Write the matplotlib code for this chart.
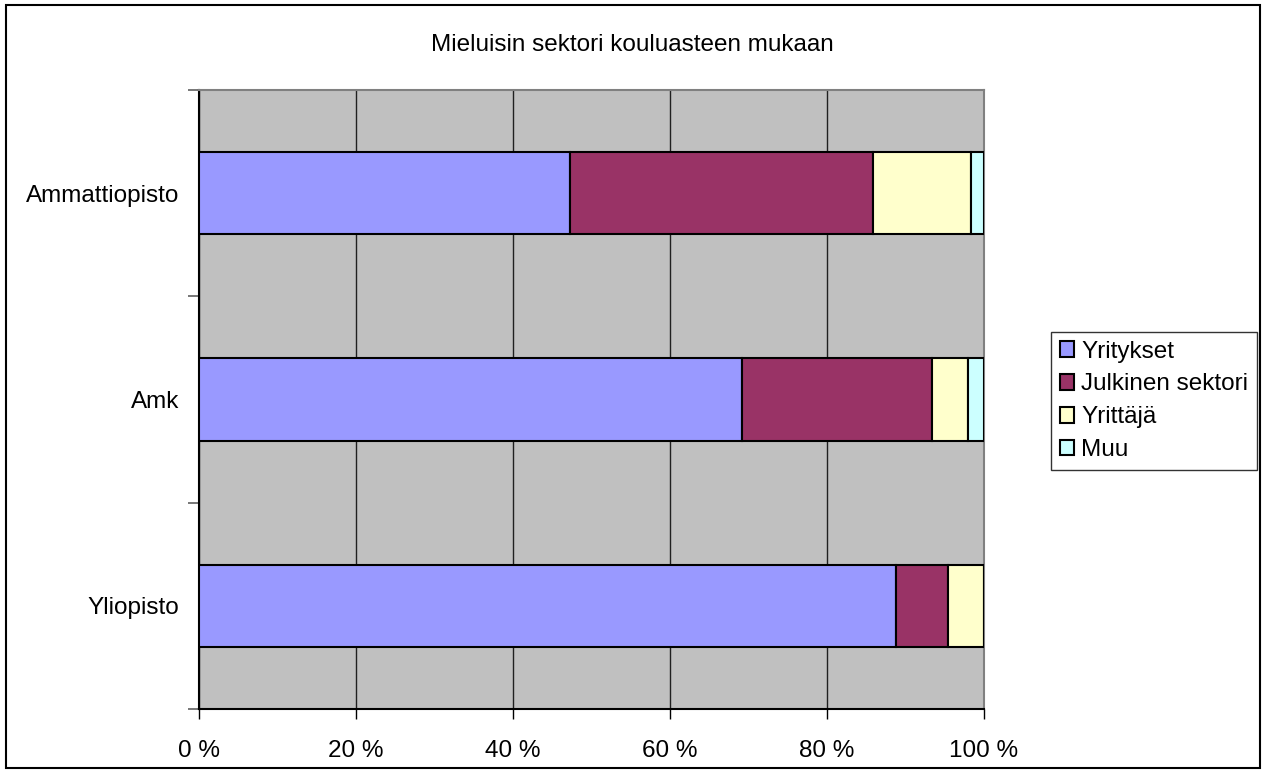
import matplotlib
matplotlib.use('Agg')
import matplotlib.pyplot as plt
from matplotlib.patches import Rectangle
from matplotlib.ticker import FixedLocator, FuncFormatter

plt.rcParams['font.family'] = ['Liberation Sans', 'DejaVu Sans']

categories = ['Ammattiopisto', 'Amk', 'Yliopisto']
series = ['Yritykset', 'Julkinen sektori', 'Yrittäjä', 'Muu']
yritykset = [47.3, 69.2, 88.8]
julkinen = [38.5, 24.2, 6.6]
yrittaja = [12.5, 4.6, 4.6]
muu = [1.7, 2.0, 0.0]
colors = ['#9999FF', '#993366', '#FFFFCC', '#CCFFFF']

fig = plt.figure(figsize=(12.66, 7.73), dpi=100)
ax = fig.add_axes([0.1572, 0.0828, 0.6201, 0.8008])
ax.set_facecolor('#C0C0C0')

ypos = [2, 1, 0]
left = [0, 0, 0]
for name, vals, c in zip(series, [yritykset, julkinen, yrittaja, muu], colors):
    ax.barh(ypos, vals, left=left, height=0.4, color=c, edgecolor='black',
            lw=1.5, label=name, zorder=3)
    left = [l + v for l, v in zip(left, vals)]

ax.set_xlim(0, 100)
ax.set_ylim(-0.5, 2.5)
ax.set_xticks([0, 20, 40, 60, 80, 100])
ax.xaxis.set_major_formatter(FuncFormatter(lambda v, p: f'{int(v)} %'))
ax.grid(axis='x', color='#202020', lw=1, zorder=1)
ax.set_axisbelow(True)

ax.set_yticks(ypos)
ax.set_yticklabels(categories)
ax.yaxis.set_minor_locator(FixedLocator([-0.5, 0.5, 1.5, 2.5]))
ax.tick_params(axis='y', which='major', length=0, pad=14, labelsize=17.5)
ax.tick_params(axis='y', which='minor', length=8, width=1.2, color='#606060')
ax.tick_params(axis='x', length=7, width=1, pad=15, labelsize=17.5, color='black')

for s in ['top', 'right']:
    ax.spines[s].set_color('#808080')
    ax.spines[s].set_linewidth(1.5)
for s in ['left', 'bottom']:
    ax.spines[s].set_color('black')
    ax.spines[s].set_linewidth(1.5)

fig.text(0.4992, 0.942, 'Mieluisin sektori kouluasteen mukaan', ha='center', va='center',
         fontsize=17.5)

leg = ax.legend(loc='upper left', bbox_to_anchor=(1051 / 1266, 1 - 332 / 773),
                bbox_transform=fig.transFigure, frameon=True, fancybox=False,
                edgecolor='black', fontsize=17.5, handlelength=0.6, handleheight=0.6,
                handletextpad=0.3, borderpad=0.35, labelspacing=0.45, borderaxespad=0)
leg.get_frame().set_linewidth(1)

fig.patches.append(Rectangle((6 / 1266, 5 / 773), 1254 / 1266, 763 / 773,
                             transform=fig.transFigure, fill=False, ec='black', lw=1.5))

fig.savefig('out.png', dpi=100, facecolor='white')
